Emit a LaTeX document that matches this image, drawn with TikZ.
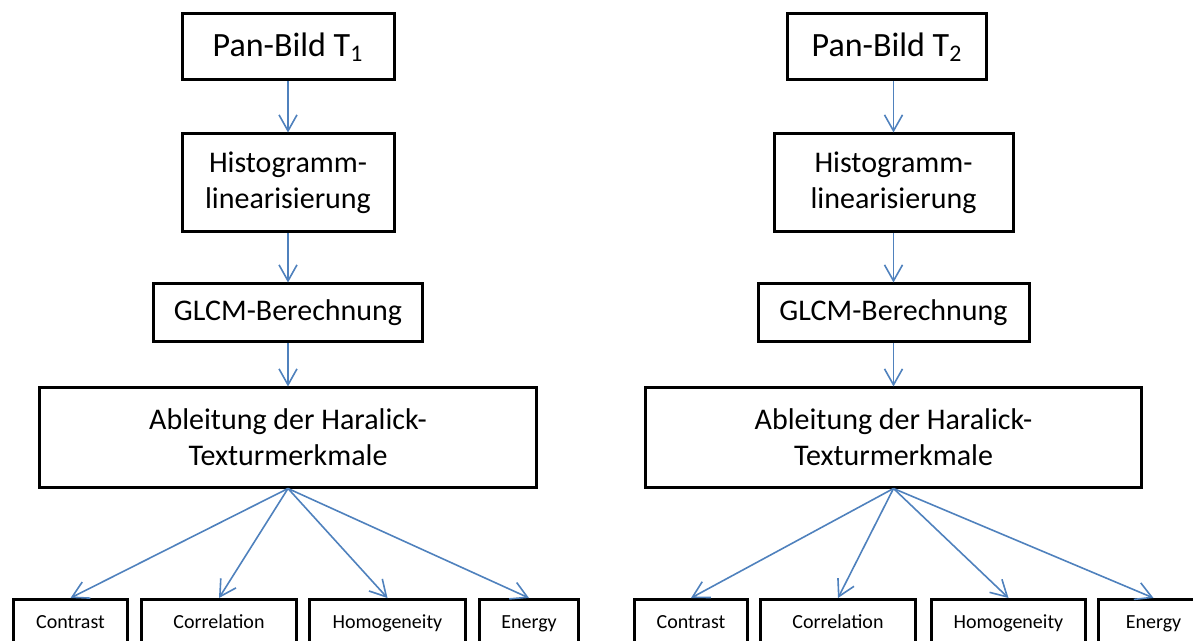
\documentclass[tikz,border=0pt]{standalone}
\usepackage{fontspec}
\setmainfont{Carlito}
\usetikzlibrary{arrows.meta,positioning}
\definecolor{flowblue}{RGB}{79,129,189}

\begin{document}
\begin{tikzpicture}[x=0.5pt,y=-0.5pt,
 box/.style={draw,line width=1.5pt,align=center,inner sep=0pt,font=\fontsize{15}{18}\selectfont},
 headbox/.style={box,minimum height=33pt,font=\fontsize{17}{20}\selectfont},
 featbox/.style={box,minimum height=24pt,text height=7pt,text depth=2pt,font=\fontsize{10}{12}\selectfont},
 >={Straight Barb[length=8pt,width=9pt]},
 flow/.style={->,draw=flowblue,line width=0.8pt}]
\useasboundingbox (0,0) rectangle (1193,641);
% T1 column
\node[headbox,minimum width=106pt] (pana) at (288,47) {Pan-Bild T\textsubscript{1}};
\node[box,minimum width=106pt,minimum height=49pt,below=25.5pt of pana] (hista) {Histogramm-\\linearisierung};
\node[box,minimum width=134.5pt,minimum height=29pt,below=24.5pt of hista] (glcma) {GLCM-Berechnung};
\node[box,minimum width=248.5pt,minimum height=49.5pt,below=21.5pt of glcma] (hara) {Ableitung der Haralick-\\Texturmerkmale};
\node[featbox,minimum width=57pt,anchor=north west] (cona) at (12,598) {Contrast};
\node[featbox,minimum width=77.5pt,right=5.5pt of cona] (cora) {Correlation};
\node[featbox,minimum width=78pt,right=5pt of cora] (homa) {Homogeneity};
\node[featbox,minimum width=49.5pt,right=5.5pt of homa] (enea) {Energy};
% T2 column
\node[headbox,minimum width=99.5pt] (panb) at (887,47) {Pan-Bild T\textsubscript{2}};
\node[box,minimum width=119.5pt,minimum height=49pt] (histb) at (893.5,183) {Histogramm-\\linearisierung};
\node[box,minimum width=135.5pt,minimum height=29pt,below=24.5pt of histb] (glcmb) {GLCM-Berechnung};
\node[box,minimum width=248pt,minimum height=49.5pt,below=21.5pt of glcmb] (harb) {Ableitung der Haralick-\\Texturmerkmale};
\node[featbox,minimum width=56.5pt,anchor=north west] (conb) at (633,598) {Contrast};
\node[featbox,minimum width=77.5pt,right=5pt of conb] (corb) {Correlation};
\node[featbox,minimum width=77pt,right=6.5pt of corb] (homb) {Homogeneity};
\node[featbox,minimum width=55pt,right=5pt of homb] (eneb) {Energy};
% arrows
\draw[flow] (pana) -- (hista);
\draw[flow] (hista) -- (glcma);
\draw[flow] (glcma) -- (hara);
\draw[flow] (hara.south) -- (cona.north);
\draw[flow] (hara.south) -- (cora.north);
\draw[flow] (hara.south) -- (homa.north);
\draw[flow] (hara.south) -- (enea.north);
\draw[flow] (histb.north |- panb.south) -- (histb);
\draw[flow] (histb) -- (glcmb);
\draw[flow] (glcmb) -- (harb);
\draw[flow] (harb.south) -- (conb.north);
\draw[flow] (harb.south) -- (corb.north);
\draw[flow] (harb.south) -- (homb.north);
\draw[flow] (harb.south) -- (eneb.north);
\end{tikzpicture}
\end{document}
